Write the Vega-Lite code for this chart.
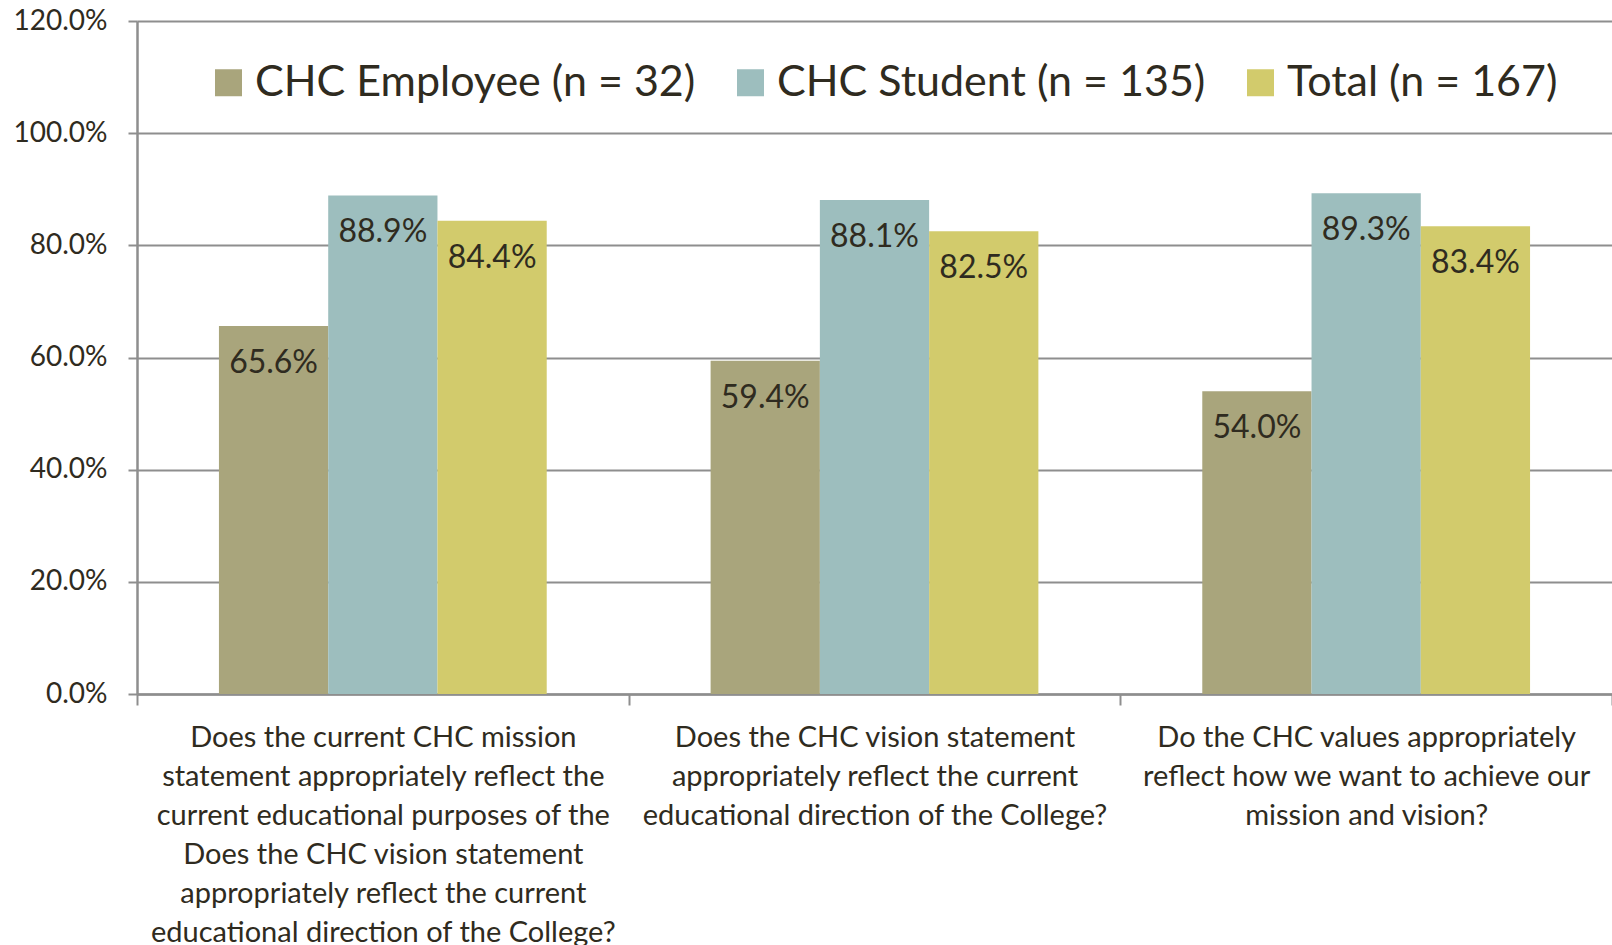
{
  "$schema": "https://vega.github.io/schema/vega-lite/v6.json",
  "width": 1475,
  "height": 673,
  "autosize": {"type": "none"},
  "padding": {"left": 137, "top": 21, "right": 0, "bottom": 251},
  "background": "#ffffff",
  "config": {
    "view": {"stroke": null},
    "font": "Lato",
    "text": {"font": "Lato"}
  },
  "data": {
    "values": [
      {"question": "Does the current CHC mission\nstatement appropriately reflect the\ncurrent educational purposes of the\nDoes the CHC vision statement\nappropriately reflect the current\neducational direction of the College?", "group": "CHC Employee (n = 32)", "value": 0.656},
      {"question": "Does the current CHC mission\nstatement appropriately reflect the\ncurrent educational purposes of the\nDoes the CHC vision statement\nappropriately reflect the current\neducational direction of the College?", "group": "CHC Student (n = 135)", "value": 0.889},
      {"question": "Does the current CHC mission\nstatement appropriately reflect the\ncurrent educational purposes of the\nDoes the CHC vision statement\nappropriately reflect the current\neducational direction of the College?", "group": "Total (n = 167)", "value": 0.844},
      {"question": "Does the CHC vision statement\nappropriately reflect the current\neducational direction of the College?", "group": "CHC Employee (n = 32)", "value": 0.594},
      {"question": "Does the CHC vision statement\nappropriately reflect the current\neducational direction of the College?", "group": "CHC Student (n = 135)", "value": 0.881},
      {"question": "Does the CHC vision statement\nappropriately reflect the current\neducational direction of the College?", "group": "Total (n = 167)", "value": 0.825},
      {"question": "Do the CHC values appropriately\nreflect how we want to achieve our\nmission and vision?", "group": "CHC Employee (n = 32)", "value": 0.540},
      {"question": "Do the CHC values appropriately\nreflect how we want to achieve our\nmission and vision?", "group": "CHC Student (n = 135)", "value": 0.893},
      {"question": "Do the CHC values appropriately\nreflect how we want to achieve our\nmission and vision?", "group": "Total (n = 167)", "value": 0.834}
    ]
  },
  "encoding": {
    "x": {
      "field": "question",
      "type": "nominal",
      "sort": null,
      "title": null,
      "scale": {"paddingInner": 0, "paddingOuter": 0},
      "axis": {
        "tickBand": "extent",
        "labelAngle": 0,
        "labelAlign": "center",
        "labelBaseline": "top",
        "labelExpr": "split(datum.label, '\\n')",
        "labelFont": "Lato",
        "labelFontSize": 29,
        "labelLineHeight": 39,
        "labelColor": "#2F2B20",
        "labelPadding": 18,
        "labelLimit": 0,
        "tickSize": 11,
        "tickColor": "#8E8E8E",
        "tickWidth": 2,
        "domainColor": "#8E8E8E",
        "domainWidth": 2.5,
        "grid": false
      }
    },
    "xOffset": {
      "field": "group",
      "type": "nominal",
      "sort": ["CHC Employee (n = 32)", "CHC Student (n = 135)", "Total (n = 167)"],
      "scale": {"paddingInner": 0, "paddingOuter": 0.75}
    },
    "y": {
      "field": "value",
      "type": "quantitative",
      "title": null,
      "scale": {"domain": [0, 1.2], "nice": false},
      "axis": {
        "values": [0, 0.2, 0.4, 0.6, 0.8, 1.0, 1.2],
        "format": ".1%",
        "labelFont": "Lato",
        "labelFontSize": 28,
        "labelColor": "#2F2B20",
        "labelPadding": 21,
        "tickSize": 9,
        "tickColor": "#8E8E8E",
        "tickWidth": 2,
        "domainColor": "#8E8E8E",
        "domainWidth": 2.5,
        "grid": true,
        "gridColor": "#8E8E8E",
        "gridWidth": 2
      }
    }
  },
  "layer": [
    {
      "mark": {"type": "bar"},
      "encoding": {
        "color": {
          "field": "group",
          "type": "nominal",
          "sort": ["CHC Employee (n = 32)", "CHC Student (n = 135)", "Total (n = 167)"],
          "scale": {"range": ["#A9A57C", "#9DBEBE", "#D2CB6C"]},
          "legend": {
            "title": null,
            "orient": "none",
            "legendX": 70,
            "legendY": 40,
            "direction": "horizontal",
            "columns": 3,
            "columnPadding": 33,
            "padding": 0,
            "symbolType": "square",
            "symbolSize": 729,
            "symbolStrokeWidth": 0,
            "symbolOpacity": 1,
            "labelFont": "Lato",
            "labelFontSize": 43,
            "labelColor": "#2F2B20",
            "labelOffset": 5,
            "labelLimit": 0
          }
        }
      }
    },
    {
      "mark": {"type": "text", "baseline": "top", "dy": 22, "fontSize": 32, "font": "Lato", "color": "#2F2B20"},
      "encoding": {
        "text": {"field": "value", "type": "quantitative", "format": ".1%"}
      }
    }
  ]
}
